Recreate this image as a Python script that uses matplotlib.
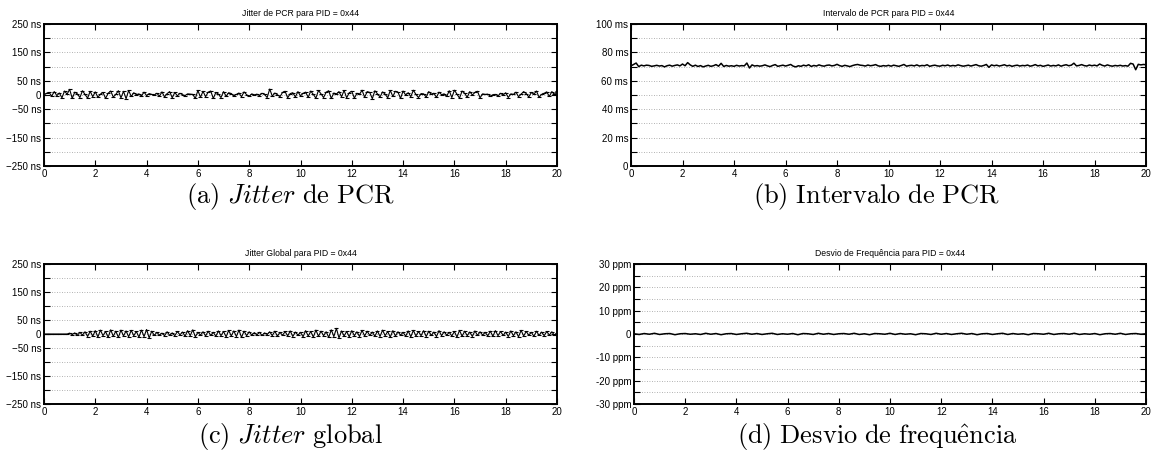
import matplotlib
matplotlib.use('Agg')
import matplotlib.pyplot as plt
import numpy as np

plt.rcParams['font.family'] = ['Liberation Sans', 'DejaVu Sans']
plt.rcParams['mathtext.fontset'] = 'cm'

# jitter de PCR (ns), amostrado a cada 0.1 s
jitter_pcr = [
    0, 6, 9, -4, 12, -2, 7, -10, 14, 3, 20, -12, 10, 4, -9, 15, 2, -11, 13, -6,
    11, -8, 3, 9, -12, 6, 14, -7, 2, 15, -10, 13, -13, 16, -5, 8, 1, 4, -3, 10,
    -2, 5, 2, 0, 6, -4, 11, -7, 5, 12, -10, 9, -3, 6, 1, -2, 4, 3, 2, -12,
    16, -8, 13, -6, 10, 14, -12, 9, 3, -9, 12, -4, 8, 5, -3, 2, 7, -6, 11, 1,
    -5, 4, 0, 3, -2, 6, 2, -9, 21, -4, 7, 1, -6, 9, 13, -10, 5, 8, -7, 12,
    -3, 6, 10, -8, 14, 2, -11, 16, 4, -9, 10, 15, -12, 7, 3, 12, -6, 16, -10, 8,
    13, -11, 6, 2, 17, -8, 12, 9, -13, 15, 4, -7, 11, 3, -10, 16, -5, 13, 10, -12,
    14, 0, 8, -6, 17, 2, -9, 5, 4, -7, 12, 3, 6, -8, 10, 1, 4, -5, 15, -9,
    17, 3, -11, 14, 6, -8, 12, 0, 9, 13, -10, 4, 2, 3, -4, 1, 2, -3, 6, 0,
    8, -9, 4, 2, 10, -6, 3, 12, 5, -7, 9, 3, 14, -8, 2, 6, 11, -5, 12, 2,
    14,
]

# intervalo de PCR (ms), a cada 0.1 s
intervalo_pcr = [
    70.5, 71.5, 72.5, 70, 71, 70.5, 71, 70.8, 70.2, 70.5,
    70.9, 70.4, 70.7, 69.8, 70.6, 71, 70.3, 70.8, 71.2, 70.5,
    71.8, 70.6, 72.8, 71.2, 70.2, 71, 70.1, 70.7, 69.8, 70.4,
    70.9, 70.2, 70.6, 71.4, 70.3, 72.3, 70.1, 70.8, 70.3, 70.6,
    70.2, 70.9, 70.4, 70.7, 70.5, 72.5, 69, 71.2, 70.4, 70.7,
    70.3, 70.6, 71.2, 70.5, 70, 70.8, 71.4, 70.2, 70.6, 71,
    70.4, 70.9, 71.5, 70.3, 69.8, 70.6, 70.2, 71, 70.5, 71.3,
    70.1, 70.8, 70.4, 71.2, 70.6, 70.3, 70.9, 71.1, 70.5, 70.8,
    71.6, 70.7, 70.2, 70.9, 70.5, 70, 70.7, 71.2, 71.5, 71,
    70.8, 70.4, 71.1, 70.6, 70.9, 71.4, 70.5, 70.2, 70.7, 70.4,
    70.9, 70.3, 71, 70.6, 70.2, 70.8, 71.5, 70.3, 70.7, 70.9,
    70.5, 71.2, 70.4, 70.8, 70.6, 71.3, 70.2, 70.7, 71, 70.5,
    70.3, 70.9, 70.6, 71.1, 70.4, 70.8, 70.5, 71.2, 70.7, 70.3,
    70.6, 71, 70.4, 70.9, 71.4, 70.6, 70.3, 70.8, 71.5, 69.5,
    71.2, 70.6, 71, 70.4, 70.8, 71.3, 70.5, 70.9, 70.2, 70.7,
    71, 70.4, 70.8, 70.6, 71.1, 70.3, 70.7, 71.4, 70.5, 70.9,
    70.2, 70.6, 71.1, 70.4, 70.8, 70.5, 71.2, 70.3, 70.9, 71.3,
    70.6, 71, 72.4, 70.5, 70.8, 71.4, 70.7, 70.4, 71.1, 70.6,
    71, 70.5, 71.8, 70.9, 70.4, 71.2, 70.6, 70.3, 70.8, 70.5,
    70.9, 70.4, 70.7, 70.3, 72.3, 71.8, 67.8, 71.6, 71.2, 71.5,
    71.3,
]

# jitter global (ns), a cada 0.1 s
jitter_global = [
    0, 0, 0, 0, 0, 0, 0, 0, 0, 0,
    3, -2, 4, -5, 6, -4, 8, -9, 10, -8,
    12, -11, 14, -6, 9, -12, 15, -8, 10, -12,
    14, -7, 11, -10, 13, -6, 9, -11, 14, -9,
    16, -14, 10, -5, 6, -4, 3, -6, 8, -5,
    4, -6, 9, -3, 7, -8, 12, -6, 15, -10,
    6, -4, 8, -7, 10, -5, 6, -8, 11, -6,
    9, -10, 13, -7, 11, -9, 14, -12, 10, -6,
    8, -4, 5, -3, 6, -5, 4, -2, 8, -6,
    10, -8, 6, -5, 9, -7, 11, -9, 7, -4,
    6, -10, 12, -7, 9, -11, 14, -8, 10, -6,
    8, -12, 15, -9, 20, -14, 11, -7, 9, -10,
    12, -6, 8, -9, 13, -7, 10, -5, 7, -8,
    11, -9, 14, -6, 9, -11, 12, -7, 8, -4,
    6, -8, 11, -10, 13, -7, 9, -6, 12, -9,
    10, -5, 7, -9, 12, -6, 8, -4, 6, -7,
    9, -11, 13, -8, 10, -6, 7, -9, 11, -5,
    8, -4, 6, -7, 10, -8, 12, -6, 9, -5,
    7, -9, 11, -6, 8, -10, 13, -7, 9, -4,
    6, -8, 10, -5, 7, -6, 9, -4, 8, -5,
    4,
]

# desvio de frequencia (ppm), a cada 0.2 s
desvio_freq = [
    0.1, -0.2, 0.2, -0.1, 0.3, -0.2, 0.1, 0.2, -0.3, 0.1,
    0.2, -0.1, 0.1, -0.2, 0.3, -0.1, 0.2, -0.3, 0.1, 0.2,
    -0.2, 0.1, 0.3, -0.1, 0.2, -0.2, 0.1, 0.3, -0.2, 0.1,
    -0.1, 0.2, -0.3, 0.2, 0.1, -0.2, 0.3, -0.1, 0.2, -0.2,
    0.1, 0.2, -0.1, 0.3, -0.2, 0.1, -0.3, 0.2, 0.1, -0.1,
    0.3, -0.2, 0.2, -0.1, 0.1, -0.3, 0.2, 0.1, -0.2, 0.3,
    -0.1, 0.2, -0.2, 0.1, 0.3, -0.1, 0.2, -0.3, 0.1, 0.2,
    -0.2, 0.1, 0.3, -0.2, 0.2, -0.1, 0.1, -0.3, 0.2, 0.1,
    -0.1, 0.3, -0.2, 0.1, 0.2, -0.1, 0.3, -0.2, 0.1, -0.1,
    0.2, -0.3, 0.1, 0.2, -0.1, 0.3, -0.2, 0.1, 0.2, -0.1,
    0.1,
]

ns_ticks = [250, 200, 150, 100, 50, 0, -50, -100, -150, -200, -250]
ns_labels = ['250 ns', '', '150 ns', '', '50 ns', '0', '\u221250 ns', '', '\u2212150 ns', '', '\u2212250 ns']
ms_ticks = [0, 10, 20, 30, 40, 50, 60, 70, 80, 90, 100]
ms_labels = ['0', '', '20 ms', '', '40 ms', '', '60 ms', '', '80 ms', '', '100 ms']
ppm_ticks = [30, 25, 20, 15, 10, 5, 0, -5, -10, -15, -20, -25, -30]
ppm_labels = ['30 ppm', '', '20 ppm', '', '10 ppm', '', '0', '', '-10 ppm', '', '-20 ppm', '', '-30 ppm']


def t_axis(vals, tmax=20):
    return np.linspace(0, tmax, len(vals))


def estilo(ax, yticks, ylabels, ylim, title):
    ax.set_xlim(0, 20)
    ax.set_ylim(*ylim)
    ax.set_xticks(np.arange(0, 21, 2))
    ax.set_yticks(yticks)
    ax.set_yticklabels(ylabels)
    ax.tick_params(direction='in', top=True, right=True, length=4, width=0.8,
                   labelsize=7, pad=2)
    ax.yaxis.grid(True, linestyle=(0, (1, 2)), color='#999999', linewidth=0.6)
    for s in ax.spines.values():
        s.set_linewidth(1.4)
    ax.set_title(title, fontsize=6.2, pad=6)


W, H = 1153, 457
fig = plt.figure(figsize=(W / 100, H / 100), dpi=100)

ax_a = fig.add_axes([44 / W, 1 - 166 / H, 513 / W, 142 / H])
ax_b = fig.add_axes([631 / W, 1 - 166 / H, 515 / W, 142 / H])
ax_c = fig.add_axes([44 / W, 1 - 404 / H, 513 / W, 140 / H])
ax_d = fig.add_axes([634 / W, 1 - 404 / H, 512 / W, 140 / H])

ax_a.plot(t_axis(jitter_pcr), jitter_pcr, color='k', lw=0.8, marker='_', ms=3, mew=0.8)
estilo(ax_a, ns_ticks, ns_labels, (-250, 250), 'Jitter de PCR para PID = 0x44')

ax_b.plot(t_axis(intervalo_pcr), intervalo_pcr, color='k', lw=1.1)
estilo(ax_b, ms_ticks, ms_labels, (0, 100), 'Intervalo de PCR para PID = 0x44')

ax_c.plot(t_axis(jitter_global), jitter_global, color='k', lw=0.8, marker='_', ms=3, mew=0.8)
estilo(ax_c, ns_ticks, ns_labels, (-250, 250), 'Jitter Global para PID = 0x44')

ax_d.plot(t_axis(desvio_freq), desvio_freq, color='k', lw=1.1)
estilo(ax_d, ppm_ticks, ppm_labels, (-30, 30), 'Desvio de Frequ\u00eancia para PID = 0x44')

cap = dict(ha='center', va='center', fontsize=19)
fig.text(290 / W, 1 - 197 / H, r'$\mathrm{(a)}\ \mathit{Jitter}\ \mathrm{de\ PCR}$', **cap)
fig.text(877 / W, 1 - 197 / H, r'$\mathrm{(b)\ Intervalo\ de\ PCR}$', **cap)
fig.text(290 / W, 1 - 437 / H, r'$\mathrm{(c)}\ \mathit{Jitter}\ \mathrm{global}$', **cap)
fig.text(877 / W, 1 - 437 / H, r'$\mathrm{(d)\ Desvio\ de\ frequ\hat{e}ncia}$', **cap)

fig.savefig('out.png', dpi=100)
